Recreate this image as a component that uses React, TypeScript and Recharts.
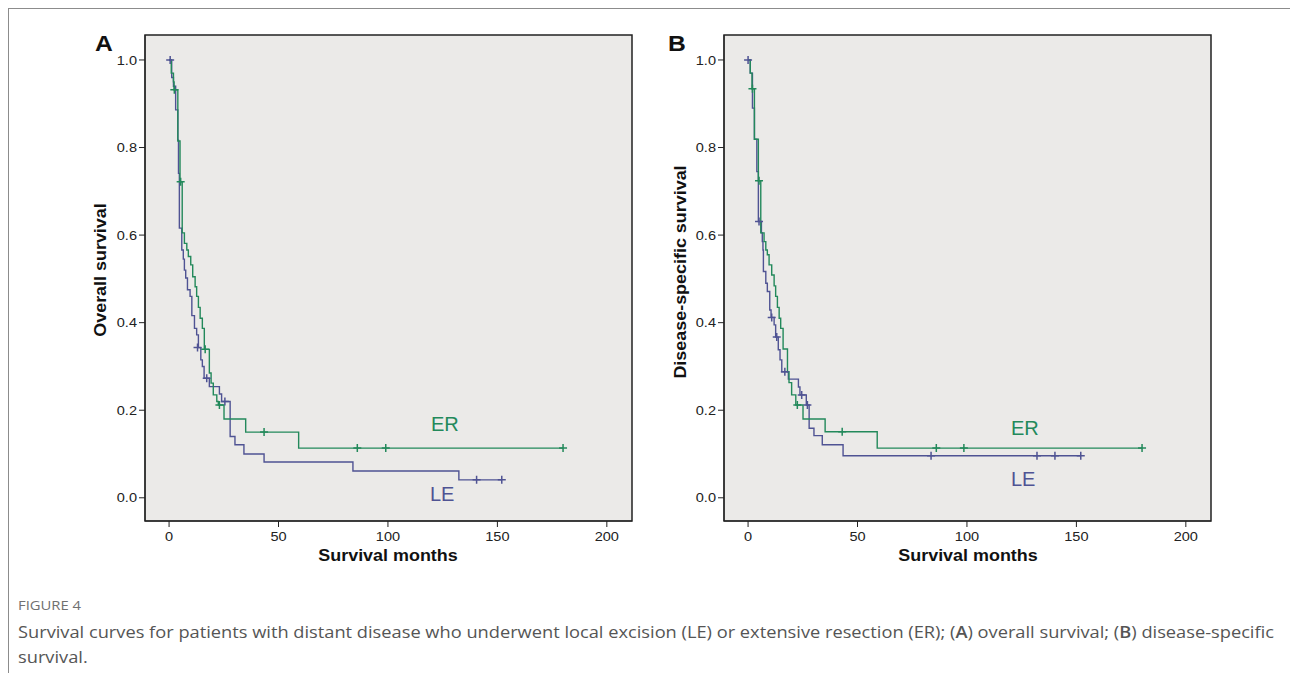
import React from "react";
import {
  ComposedChart,
  Line,
  Scatter,
  XAxis,
  YAxis,
  CartesianGrid,
  ReferenceArea,
} from "recharts";

// survival months ticks and survival ticks
const xTicks = [0, 50, 100, 150, 200];
const yTicks = [0, 0.2, 0.4, 0.6, 0.8, 1.0];
const xDomain = [-11, 211.5];
const yDomain = [-0.053, 1.057];

// Panel A - overall survival
const leTimesA = [0, 1.2, 2, 3, 4, 4.3, 4.7, 5.8, 6.5, 7.0, 7.6, 8.4, 9.6, 10.4, 11.6, 12.6, 13.4, 14.5, 15.2, 16.0, 18.4, 23, 24, 27.9, 30.1, 34.2, 43.4, 84, 132.4, 152];
const leSurvA = [1.0, 0.96, 0.94, 0.886, 0.817, 0.741, 0.616, 0.566, 0.545, 0.52, 0.502, 0.475, 0.46, 0.416, 0.387, 0.372, 0.343, 0.315, 0.3, 0.273, 0.254, 0.237, 0.22, 0.14, 0.121, 0.1, 0.0816, 0.0612, 0.041, 0.041];
const leCensorTimesA = [0.5, 13, 17.2, 25.5, 140.5, 152];
const leCensorSurvA = [1.0, 0.343, 0.273, 0.22, 0.041, 0.041];

const erTimesA = [0, 1, 2, 2.3, 4, 5, 6, 7, 8.1, 8.8, 9.9, 10.8, 11.9, 12.6, 13.4, 14.2, 15.2, 16.1, 18.4, 19.2, 20.2, 21.8, 22.5, 25.1, 35, 59.2, 180];
const erSurvA = [1.0, 0.97, 0.95, 0.932, 0.815, 0.722, 0.605, 0.581, 0.566, 0.551, 0.532, 0.505, 0.482, 0.46, 0.435, 0.41, 0.387, 0.339, 0.285, 0.262, 0.235, 0.22, 0.212, 0.18, 0.15, 0.1135, 0.1135];
const erCensorTimesA = [2.4, 5.3, 16.5, 23, 43.4, 86, 99, 180];
const erCensorSurvA = [0.932, 0.722, 0.339, 0.212, 0.15, 0.1135, 0.1135, 0.1135];

// Panel B - disease-specific survival
const leTimesB = [0, 1, 2, 2.9, 4, 4.7, 6.1, 6.5, 6.8, 7.0, 8.1, 8.8, 9.9, 10.5, 11.9, 12.6, 13.8, 14.6, 15.4, 18.4, 23.0, 23.7, 26.6, 27.9, 30.1, 33.9, 43.4, 152];
const leSurvB = [1.0, 0.97, 0.89, 0.819, 0.745, 0.631, 0.605, 0.585, 0.566, 0.517, 0.49, 0.471, 0.429, 0.412, 0.395, 0.367, 0.338, 0.315, 0.288, 0.271, 0.253, 0.235, 0.212, 0.159, 0.142, 0.121, 0.096, 0.096];
const leCensorTimesB = [0, 5, 10.8, 13.1, 16.8, 24.5, 27.1, 83.6, 132, 140.2, 152];
const leCensorSurvB = [1.0, 0.631, 0.412, 0.367, 0.288, 0.235, 0.212, 0.096, 0.096, 0.096, 0.096];

const erTimesB = [0, 1, 1.8, 2.9, 4.7, 5.8, 7.3, 8.1, 8.8, 9.6, 10.8, 11.9, 12.6, 13.4, 14.2, 14.9, 16.0, 18.0, 18.7, 19.9, 21.8, 25.1, 35.2, 59.0, 180];
const erSurvB = [1.0, 0.97, 0.934, 0.819, 0.724, 0.605, 0.585, 0.566, 0.555, 0.532, 0.509, 0.484, 0.46, 0.435, 0.41, 0.387, 0.34, 0.288, 0.263, 0.235, 0.212, 0.18, 0.151, 0.1135, 0.1135];
const erCensorTimesB = [2, 5, 22.5, 43, 86, 98.6, 180];
const erCensorSurvB = [0.934, 0.724, 0.212, 0.151, 0.1135, 0.1135, 0.1135];

const GREEN = "#23895b";
const BLUE = "#4f5393";
const AXIS_FONT = "'Liberation Sans', Arial, sans-serif";
// the source figure is a little wider than tall, so text is stretched sideways
const STRETCH = 1.12;

const toPoints = (times: number[], surv: number[]) =>
  times.map((m, i) => ({ m, s: surv[i] }));

function Plus(props: any) {
  const { cx, cy, color } = props;
  if (cx == null || cy == null) return null;
  return (
    <path
      d={`M${cx - 4},${cy}H${cx + 4}M${cx},${cy - 4}V${cy + 4}`}
      stroke={color}
      strokeWidth={1.5}
      fill="none"
    />
  );
}

function Tick(props: any) {
  const { x, y, payload, textAnchor, dy, formatter } = props;
  const label = formatter ? formatter(payload.value) : String(payload.value);
  return (
    <text
      x={x}
      y={y}
      dy={dy}
      textAnchor={textAnchor}
      fill="#222"
      fontSize={13}
      fontFamily={AXIS_FONT}
      transform={`translate(${x},0) scale(${STRETCH},1) translate(${-x},0)`}
    >
      {label}
    </text>
  );
}

interface PanelProps {
  left: number;
  marginLeft: number;
  marginRight: number;
  le: { m: number; s: number }[];
  er: { m: number; s: number }[];
  leCensor: { m: number; s: number }[];
  erCensor: { m: number; s: number }[];
}

function Panel({ left, marginLeft, marginRight, le, er, leCensor, erCensor }: PanelProps) {
  return (
    <div style={{ position: "absolute", left, top: 0 }}>
      <ComposedChart
        width={640}
        height={580}
        margin={{ top: 35, right: marginRight, bottom: 29, left: marginLeft }}
      >
        <CartesianGrid horizontal={false} vertical={false} fill="#ebeae8" />
        <XAxis
          type="number"
          dataKey="m"
          domain={xDomain}
          ticks={xTicks}
          allowDataOverflow
          height={30}
          tickSize={6}
          tickMargin={5}
          stroke="#222"
          tick={(p: any) => <Tick {...p} textAnchor="middle" dy="0.71em" />}
        />
        <YAxis
          type="number"
          dataKey="s"
          domain={yDomain}
          ticks={yTicks}
          allowDataOverflow
          width={40}
          tickSize={6}
          tickMargin={2}
          stroke="#222"
          tick={(p: any) => (
            <Tick {...p} textAnchor="end" dy="0.355em" formatter={(v: number) => v.toFixed(1)} />
          )}
        />
        <ReferenceArea
          x1={xDomain[0]}
          x2={xDomain[1]}
          y1={yDomain[0]}
          y2={yDomain[1]}
          fill="none"
          stroke="#222"
          strokeWidth={1.5}
        />
        <Line
          data={le}
          dataKey="s"
          type="stepAfter"
          stroke={BLUE}
          strokeWidth={1.4}
          dot={false}
          isAnimationActive={false}
        />
        <Line
          data={er}
          dataKey="s"
          type="stepAfter"
          stroke={GREEN}
          strokeWidth={1.4}
          dot={false}
          isAnimationActive={false}
        />
        <Scatter
          data={leCensor}
          dataKey="s"
          shape={(p: any) => <Plus {...p} color={BLUE} />}
          isAnimationActive={false}
        />
        <Scatter
          data={erCensor}
          dataKey="s"
          shape={(p: any) => <Plus {...p} color={GREEN} />}
          isAnimationActive={false}
        />
      </ComposedChart>
    </div>
  );
}

const abs = (x: number, y: number, extra: React.CSSProperties = {}): React.CSSProperties => ({
  position: "absolute",
  left: x,
  top: y,
  whiteSpace: "nowrap",
  ...extra,
});

export default function App() {
  const bold: React.CSSProperties = { fontFamily: AXIS_FONT, fontWeight: 700, color: "#111" };
  const centered = `translateX(-50%) scaleX(${STRETCH})`;
  const rotated = `translate(-50%, -50%) rotate(-90deg) scaleX(${STRETCH})`;
  const caption: React.CSSProperties = {
    fontFamily: "'Open Sans', sans-serif",
    transform: "scaleX(1.14)",
    transformOrigin: "0 0",
  };
  return (
    <div style={{ position: "absolute", left: 0, top: 0, width: 1290, height: 673, background: "#fff", overflow: "hidden" }}>
      <div
        style={{
          position: "absolute",
          left: 8,
          top: 8,
          width: 1290,
          height: 673,
          borderTop: "1px solid #8c8c8c",
          borderLeft: "1px solid #8c8c8c",
        }}
      />
      <Panel
        left={0}
        marginLeft={105}
        marginRight={8}
        le={toPoints(leTimesA, leSurvA)}
        er={toPoints(erTimesA, erSurvA)}
        leCensor={toPoints(leCensorTimesA, leCensorSurvA)}
        erCensor={toPoints(erCensorTimesA, erCensorSurvA)}
      />
      <Panel
        left={580}
        marginLeft={104}
        marginRight={9}
        le={toPoints(leTimesB, leSurvB)}
        er={toPoints(erTimesB, erSurvB)}
        leCensor={toPoints(leCensorTimesB, leCensorSurvB)}
        erCensor={toPoints(erCensorTimesB, erCensorSurvB)}
      />

      {/* panel letters */}
      <div style={abs(95, 31, { ...bold, fontSize: 22, transform: `scaleX(${STRETCH})`, transformOrigin: "0 0" })}>A</div>
      <div style={abs(668, 31, { ...bold, fontSize: 22, transform: `scaleX(${STRETCH})`, transformOrigin: "0 0" })}>B</div>

      {/* axis titles */}
      <div style={abs(388, 547, { ...bold, fontSize: 16, transform: centered })}>Survival months</div>
      <div style={abs(968, 547, { ...bold, fontSize: 16, transform: centered })}>Survival months</div>
      <div style={abs(101, 270, { ...bold, fontSize: 16, transform: rotated })}>Overall survival</div>
      <div style={abs(681, 272, { ...bold, fontSize: 16, transform: rotated })}>Disease-specific survival</div>

      {/* group labels */}
      <div style={abs(431, 413, { fontFamily: AXIS_FONT, fontSize: 20, color: GREEN })}>ER</div>
      <div style={abs(430, 483, { fontFamily: AXIS_FONT, fontSize: 20, color: BLUE })}>LE</div>
      <div style={abs(1011, 417, { fontFamily: AXIS_FONT, fontSize: 20, color: GREEN })}>ER</div>
      <div style={abs(1011, 468, { fontFamily: AXIS_FONT, fontSize: 20, color: BLUE })}>LE</div>

      {/* caption */}
      <div style={abs(18, 597, { ...caption, fontSize: 13, color: "#707070", lineHeight: "16px" })}>
        FIGURE 4
      </div>
      <div style={abs(18, 620, { ...caption, fontSize: 16, color: "#555", lineHeight: "25px" })}>
        Survival curves for patients with distant disease who underwent local excision (LE) or extensive resection (ER); (<b style={{ fontWeight: 600 }}>A</b>) overall survival; (<b style={{ fontWeight: 600 }}>B</b>) disease-specific
        <br />
        survival.
      </div>
    </div>
  );
}
